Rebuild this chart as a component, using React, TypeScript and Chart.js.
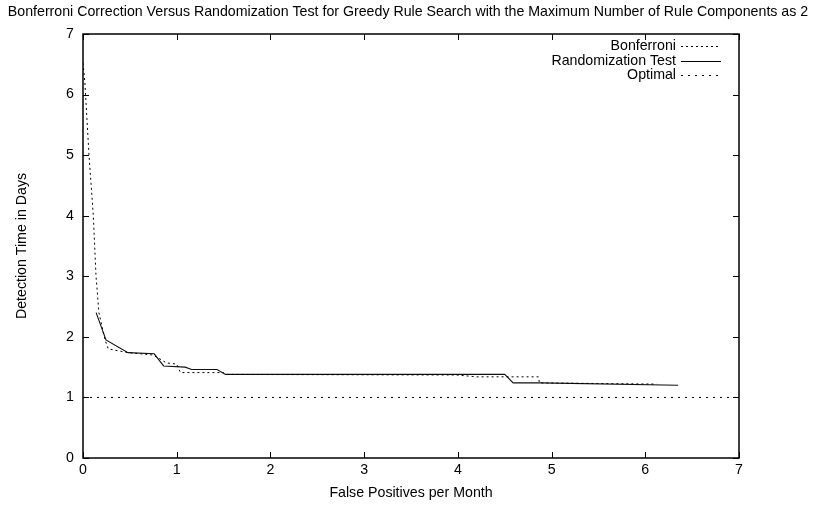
import { useEffect, useRef } from "react";
import { Chart, registerables } from "chart.js";

Chart.register(...registerables);

const chartTitle =
  "Bonferroni Correction Versus Randomization Test for Greedy Rule Search with the Maximum Number of Rule Components as 2";
const xAxisTitle = "False Positives per Month";
const yAxisTitle = "Detection Time in Days";

const xTickValues = [0, 1, 2, 3, 4, 5, 6, 7];
const yTickValues = [0, 1, 2, 3, 4, 5, 6, 7];

const bonferroniX = [0, 0.02, 0.064, 0.11, 0.139, 0.17, 0.235, 0.27, 0.48, 0.75, 0.89, 1.0, 1.04, 1.5, 1.52, 3.99, 4.2, 4.86, 4.87, 6.12];
const bonferroniY = [6.52, 6.2, 5.0, 4.0, 3.0, 2.4, 1.95, 1.8, 1.74, 1.7, 1.57, 1.55, 1.41, 1.41, 1.38, 1.37, 1.34, 1.34, 1.24, 1.22];

const randomizationX = [0.14, 0.245, 0.48, 0.76, 0.86, 1.09, 1.16, 1.43, 1.52, 4.5, 4.59, 4.88, 6.35];
const randomizationY = [2.4, 1.95, 1.74, 1.72, 1.52, 1.5, 1.46, 1.46, 1.38, 1.38, 1.24, 1.24, 1.2];

const optimalX = [0, 7];
const optimalY = [1, 1];

const seriesNames = ["Bonferroni", "Randomization Test", "Optimal"];
const seriesDashes: number[][] = [[2, 3], [], [2, 5]];

const FONT = "'Liberation Sans', Arial, Helvetica, sans-serif";
const FONT_SIZE = 14.2;

function toPoints(xs: number[], ys: number[]) {
  return xs.map((x, i) => ({ x, y: ys[i] }));
}

// Frame, inward mirrored ticks, title and key, drawn in gnuplot style.
const gnuplotDecor = {
  id: "gnuplotDecor",
  afterDraw(chart: any) {
    const { ctx, chartArea, scales } = chart;
    const { left, right, top, bottom } = chartArea;
    ctx.save();
    ctx.strokeStyle = "#000";
    ctx.lineWidth = 1;
    ctx.setLineDash([]);
    const tl = 6;
    ctx.beginPath();
    xTickValues.forEach((v) => {
      const px = Math.round(scales.x.getPixelForValue(v)) + 0.5;
      ctx.moveTo(px, bottom);
      ctx.lineTo(px, bottom - tl);
      ctx.moveTo(px, top);
      ctx.lineTo(px, top + tl);
    });
    yTickValues.forEach((v) => {
      const py = Math.round(scales.y.getPixelForValue(v)) + 0.5;
      ctx.moveTo(left, py);
      ctx.lineTo(left + tl, py);
      ctx.moveTo(right, py);
      ctx.lineTo(right - tl, py);
    });
    ctx.stroke();
    ctx.lineWidth = 1.5;
    ctx.strokeRect(left, top, right - left, bottom - top);

    // title
    ctx.fillStyle = "#000";
    ctx.font = `${FONT_SIZE}px ${FONT}`;
    ctx.textAlign = "center";
    ctx.textBaseline = "middle";
    ctx.fillText(chartTitle, 408, 12);

    // key
    const textRight = 676;
    const sampleStart = 681;
    const sampleEnd = 721;
    const rowY = [46, 61, 75];
    ctx.textAlign = "right";
    seriesNames.forEach((name, i) => {
      ctx.fillText(name, textRight, rowY[i]);
      ctx.beginPath();
      ctx.lineWidth = 1;
      ctx.setLineDash(seriesDashes[i]);
      ctx.moveTo(sampleStart, rowY[i] + 0.5);
      ctx.lineTo(sampleEnd, rowY[i] + 0.5);
      ctx.stroke();
    });
    ctx.restore();
  },
};

export default function App() {
  const canvasRef = useRef<HTMLCanvasElement | null>(null);

  useEffect(() => {
    if (!canvasRef.current) return;
    const chart = new Chart(canvasRef.current, {
      type: "line",
      data: {
        datasets: [
          {
            label: seriesNames[0],
            data: toPoints(bonferroniX, bonferroniY),
            borderColor: "#000",
            borderWidth: 1,
            borderDash: seriesDashes[0],
            pointRadius: 0,
            fill: false,
            tension: 0,
          },
          {
            label: seriesNames[1],
            data: toPoints(randomizationX, randomizationY),
            borderColor: "#111",
            borderWidth: 1.1,
            pointRadius: 0,
            fill: false,
            tension: 0,
          },
          {
            label: seriesNames[2],
            data: toPoints(optimalX, optimalY),
            borderColor: "#000",
            borderWidth: 1,
            borderDash: seriesDashes[2],
            pointRadius: 0,
            fill: false,
            tension: 0,
          },
        ],
      },
      options: {
        animation: false,
        responsive: false,
        maintainAspectRatio: false,
        layout: { padding: { top: 34, right: 77, left: 0, bottom: 0 } },
        plugins: {
          legend: { display: false },
          title: { display: false },
          tooltip: { enabled: false },
        },
        scales: {
          x: {
            type: "linear",
            min: 0,
            max: 7,
            afterBuildTicks: (scale: any) => {
              scale.ticks = xTickValues.map((v) => ({ value: v }));
            },
            ticks: {
              color: "#000",
              font: { family: FONT, size: FONT_SIZE },
              padding: 4,
              maxRotation: 0,
            },
            grid: { display: false, drawTicks: false },
            border: { display: false },
            title: {
              display: true,
              text: xAxisTitle,
              color: "#000",
              font: { family: FONT, size: FONT_SIZE },
              padding: { top: 0, bottom: 4 },
            },
            afterFit: (scale: any) => {
              scale.height = 48;
            },
          },
          y: {
            type: "linear",
            min: 0,
            max: 7,
            afterBuildTicks: (scale: any) => {
              scale.ticks = yTickValues.map((v) => ({ value: v }));
            },
            ticks: {
              color: "#000",
              font: { family: FONT, size: FONT_SIZE },
              padding: 9,
            },
            grid: { display: false, drawTicks: false },
            border: { display: false },
            title: {
              display: true,
              text: yAxisTitle,
              color: "#000",
              font: { family: FONT, size: FONT_SIZE },
              padding: { top: 14, bottom: 0 },
            },
            afterFit: (scale: any) => {
              scale.width = 83;
            },
          },
        },
      },
      plugins: [gnuplotDecor],
    } as any);
    return () => chart.destroy();
  }, []);

  return (
    <div style={{ position: "fixed", left: 0, top: 0, width: 816, height: 506, background: "#fff" }}>
      <canvas ref={canvasRef} width={816} height={506} style={{ width: 816, height: 506 }} />
    </div>
  );
}
